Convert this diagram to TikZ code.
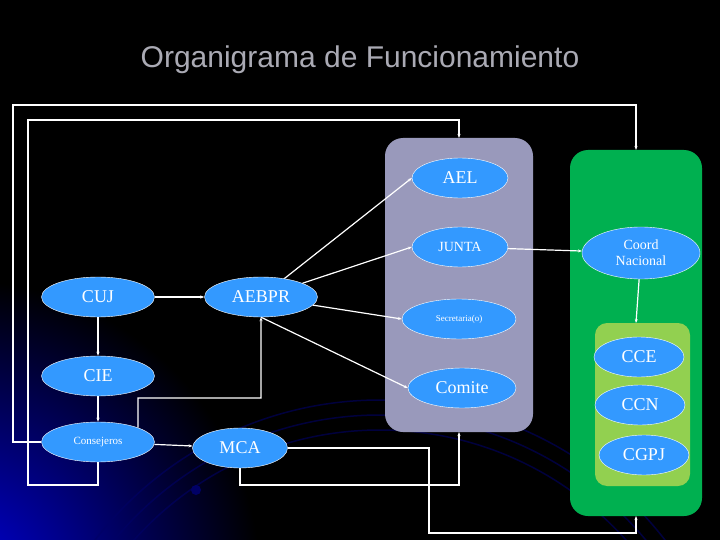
\documentclass[tikz,border=0pt]{standalone}
\usepackage{fontspec}
\newfontfamily\sansf{Liberation Sans}
\setmainfont{Liberation Serif}
\usetikzlibrary{shapes.geometric,arrows.meta}
\definecolor{ell}{RGB}{51,153,255}
\definecolor{grayb}{RGB}{153,153,187}
\definecolor{greenb}{RGB}{0,176,80}
\definecolor{lgreen}{RGB}{146,208,80}
\definecolor{ttl}{RGB}{170,170,180}
\begin{document}
\begin{tikzpicture}[x=1pt,y=-1pt,
  el/.style={ellipse,fill=ell,draw=white,line width=0.4pt,text=white,inner sep=0pt},
  ln/.style={draw=white,line width=1.2pt},
  ar/.style={ln,-{Stealth[length=4pt,width=3pt]}},
  box/.style={rounded corners=18pt}]
\useasboundingbox (0,0) rectangle (720,540);
\fill[black] (0,0) rectangle (720,540);
\begin{scope}
\clip (0,0) rectangle (720,540);
\shade[inner color=blue!85!black,outer color=black] (-40,580) circle (300);
\foreach \r in {330,345,360}
  \draw[black!60!blue,line width=1.5pt,opacity=0.6] (380,760) circle (\r);
\fill[blue!40!black] (196,490) circle (5);
\end{scope}
\node[text=ttl,font=\sansf\fontsize{30}{34}\selectfont] (title) at (360,60) {Organigrama de Funcionamiento};
\path[box,fill=grayb] (385,138) rectangle (533,432); \coordinate (gt) at (459,138); \coordinate (gb) at (459,432);
\path[box,fill=greenb] (570,150) rectangle (702,516); \coordinate (grt) at (636,150); \coordinate (grb) at (636,516);
\path[rounded corners=12pt,fill=lgreen] (595,323) rectangle (690,486); \coordinate (lt) at (636,323);
\node[el,minimum width=96pt,minimum height=40pt,font=\fontsize{18}{20}\selectfont] (ael) at (460,178) {AEL};
\node[el,minimum width=96pt,minimum height=40pt,font=\fontsize{14}{16}\selectfont] (junta) at (460,247) {JUNTA};
\node[el,minimum width=114pt,minimum height=40pt,font=\fontsize{9}{10}\selectfont] (sec) at (459,319) {Secretaria(o)};
\node[el,minimum width=108pt,minimum height=40pt,font=\fontsize{18}{20}\selectfont] (com) at (462,388) {Comite};
\node[el,minimum width=118pt,minimum height=52pt,align=center,font=\fontsize{14}{16}\selectfont] (cn) at (641,253) {Coord\\Nacional};
\node[el,minimum width=90pt,minimum height=40pt,font=\fontsize{18}{20}\selectfont] (cce) at (639,357) {CCE};
\node[el,minimum width=90pt,minimum height=40pt,font=\fontsize{18}{20}\selectfont] (ccn) at (640,405) {CCN};
\node[el,minimum width=90pt,minimum height=40pt,font=\fontsize{18}{20}\selectfont] (cgpj) at (644,455) {CGPJ};
\node[el,minimum width=113pt,minimum height=40pt,font=\fontsize{18}{20}\selectfont] (cuj) at (98,297) {CUJ};
\node[el,minimum width=113pt,minimum height=40pt,font=\fontsize{18}{20}\selectfont] (aebpr) at (261,297) {AEBPR};
\node[el,minimum width=113pt,minimum height=40pt,font=\fontsize{18}{20}\selectfont] (cie) at (98,376) {CIE};
\node[el,minimum width=113pt,minimum height=40pt,font=\fontsize{11}{12}\selectfont] (cons) at (98,442) {Consejeros};
\node[el,minimum width=95pt,minimum height=40pt,font=\fontsize{18}{20}\selectfont] (mca) at (240,448) {MCA};
% arrows
\draw[ar] (cuj) -- (aebpr);
\draw[ar] (cuj) -- (cie);
\draw[ar] (cie) -- (cons);
\draw[ar] (cons) -- (mca);
\draw[ar] (aebpr) -- (ael.west);
\draw[ar] (aebpr) -- (junta.west);
\draw[ar] (aebpr) -- (sec.west);
\draw[ar] (aebpr.south) -- (com.west);
\draw[ar] (junta) -- (cn);
\draw[ar] (cn) -- (lt);
\draw[ar] (cons.west) -- (13,442) |- (636,105) -- (grt);
\draw[ar] (cons.south) -- (98,485) -| (28,120) -| (gt);
\draw[ar] (cons.north east) -- (138,398) -| (aebpr.south);
\draw[ar] (mca.east) -| (429,533) -| (grb);
\draw[ar] (mca.south) -- (240,485) -| (gb);
\end{tikzpicture}
\end{document}
